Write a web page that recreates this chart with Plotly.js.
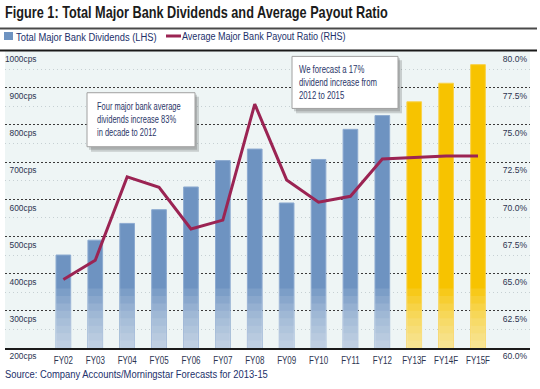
<!DOCTYPE html>
<html>
<head>
<meta charset="utf-8">
<script src="https://cdn.plot.ly/plotly-3.0.1.min.js"></script>
<style>
html,body{margin:0;padding:0;background:#fff;}
#chart{width:540px;height:389px;}
</style>
</head>
<body>
<div id="chart"></div>
<script>
// ---- data ----
const categories = ["FY02","FY03","FY04","FY05","FY06","FY07","FY08","FY09","FY10","FY11","FY12","FY13F","FY14F","FY15F"];
const dividends = [450, 490, 535, 572, 633, 704, 735, 590, 707, 788, 825, 862, 912, 962];
const payoutRatio = [64.6, 65.9, 71.5, 70.8, 68.0, 68.6, 76.4, 71.3, 69.8, 70.2, 72.7, 72.8, 72.9, 72.9];
const isForecast = [false,false,false,false,false,false,false,false,false,false,false,true,true,true];
const barName = "Total Major Bank Dividends (LHS)";
const lineName = "Average Major Bank Payout Ratio (RHS)";
const titleText = "Figure 1: Total Major Bank Dividends and Average Payout Ratio";
const sourceText = "Source: Company Accounts/Morningstar Forecasts for 2013-15";
const note1 = "Four major bank average<br>dividends increase 83%<br>in decade to 2012";
const note2 = "We forecast a 17%<br>dividend increase from<br>2012 to 2015";

// ---- styling ----
const FONT = '"Liberation Sans", Arial, sans-serif';
const BLUE = '#6e93c1', YELLOW = '#f7c300', LINE = '#9b2453', TXT = '#2c3450', NAVY = '#22306a';
const BLUE_EDGE = '#8caad0', YELLOW_EDGE = '#f9d24a';
const W = 540, H = 389, L = 5, R = 530, T = 45, B = 348;
const px = x => (x - L) / (R - L);
const py = y => (B - y) / (B - T);

const traces = [];
traces.push({
  type: 'bar', x: categories, y: dividends, name: barName,
  marker: {color: isForecast.map(f => f ? YELLOW : BLUE), line: {width: 1, color: isForecast.map(f => f ? YELLOW_EDGE : BLUE_EDGE)}},
  width: 0.46, hoverinfo: 'skip'
});
// soft fade toward the bottom of each bar (style overlay)
const base = 200;
for (let k = 1; k <= 8; k++) {
  traces.push({
    type: 'bar', x: categories, y: categories.map(() => 20 * k), base: base,
    marker: {color: 'rgba(255,255,255,0.1)', line: {width: 0}},
    width: 0.46, showlegend: false, hoverinfo: 'skip'
  });
}
traces.push({
  type: 'scatter', mode: 'lines', x: categories, y: payoutRatio, yaxis: 'y2', name: lineName,
  line: {color: LINE, width: 3}, hoverinfo: 'skip'
});

const n = categories.length;
const layout = {
  width: W, height: H,
  margin: {l: L, r: W - R, t: T, b: H - B, pad: 0},
  paper_bgcolor: '#ffffff', plot_bgcolor: '#eef5f5',
  barmode: 'overlay',
  font: {family: FONT, color: TXT, size: 10},
  title: {text: '<b>' + titleText + '</b>', xref: 'container', yref: 'container', x: 0.009, xanchor: 'left', y: 1 - 12.5 / H, yanchor: 'middle',
          font: {family: FONT, size: 16.5, color: '#1b1b1b'}},
  showlegend: true,
  legend: {orientation: 'h', xref: 'container', yref: 'container', x: 0, xanchor: 'left', y: 1 - 36 / H, yanchor: 'middle',
           font: {family: FONT, size: 11.5, color: NAVY}, itemwidth: 30, bgcolor: 'rgba(0,0,0,0)', borderwidth: 0, traceorder: 'normal'},
  xaxis: {type: 'category', range: [-1.83, n - 1 + 1.63], showgrid: false, zeroline: false, tickangle: 0, automargin: false,
          showline: true, linecolor: '#1a1a1a', linewidth: 2, ticks: '', tickfont: {size: 10, color: TXT}, ticklabelstandoff: 2, fixedrange: true},
  yaxis: {range: [200, 1000], dtick: 100, ticksuffix: 'cps', showgrid: true, gridcolor: '#3a3a3a', griddash: '2px,2px', gridwidth: 1,
          minor: {dtick: 50, showgrid: true, gridcolor: '#c6d0d3', griddash: '1px,3px', gridwidth: 1},
          zeroline: false, showline: false, ticks: '', ticklabelposition: 'inside', ticklabelshift: 8, ticklabelstandoff: 3, automargin: false,
          ticklabeloverflow: 'allow', tickfont: {size: 9.5, color: TXT}, fixedrange: true},
  yaxis2: {overlaying: 'y', side: 'right', range: [60, 80], dtick: 2.5, tickformat: '.1f', ticksuffix: '%', showgrid: false, zeroline: false,
           showline: false, ticks: '', ticklabelposition: 'inside', ticklabelshift: 8, ticklabelstandoff: 3, automargin: false,
           ticklabeloverflow: 'allow', tickfont: {size: 9.5, color: TXT}, fixedrange: true},
  shapes: [
    {type: 'line', xref: 'paper', yref: 'paper', x0: px(0), x1: px(537), y0: py(22.5), y1: py(22.5), line: {color: '#4a4a4a', width: 2}},
    {type: 'line', xref: 'paper', yref: 'paper', x0: px(0), x1: px(537), y0: py(45), y1: py(45), line: {color: '#1a1a1a', width: 2}},
    {type: 'rect', xref: 'paper', yref: 'paper', x0: px(91), x1: px(199), y0: py(92), y1: py(148), fillcolor: 'rgba(70,70,70,0.22)', line: {width: 0}, layer: 'above'},
    {type: 'rect', xref: 'paper', yref: 'paper', x0: px(89), x1: px(197), y0: py(90), y1: py(146), fillcolor: 'rgba(70,70,70,0.22)', line: {width: 0}, layer: 'above'},
    {type: 'rect', xref: 'paper', yref: 'paper', x0: px(87), x1: px(195), y0: py(88), y1: py(143), fillcolor: '#ffffff', line: {color: '#a0a0a0', width: 1}, layer: 'above'},
    {type: 'rect', xref: 'paper', yref: 'paper', x0: px(296), x1: px(402), y0: py(55), y1: py(109), fillcolor: 'rgba(70,70,70,0.22)', line: {width: 0}, layer: 'above'},
    {type: 'rect', xref: 'paper', yref: 'paper', x0: px(294), x1: px(400), y0: py(53), y1: py(107), fillcolor: 'rgba(70,70,70,0.22)', line: {width: 0}, layer: 'above'},
    {type: 'rect', xref: 'paper', yref: 'paper', x0: px(292), x1: px(398), y0: py(51), y1: py(104), fillcolor: '#ffffff', line: {color: '#a0a0a0', width: 1}, layer: 'above'}
  ],
  annotations: [
    {text: note1, xref: 'paper', yref: 'paper', x: px(97), xanchor: 'left', y: py(115.5), yanchor: 'middle', showarrow: false, align: 'left',
     font: {family: FONT, size: 10, color: '#2a3568'}},
    {text: note2, xref: 'paper', yref: 'paper', x: px(299), xanchor: 'left', y: py(77.5), yanchor: 'middle', showarrow: false, align: 'left',
     font: {family: FONT, size: 10, color: '#2a3568'}},
    {text: sourceText, xref: 'paper', yref: 'paper', x: px(5), xanchor: 'left', y: py(374), yanchor: 'middle', showarrow: false,
     font: {family: FONT, size: 11.5, color: NAVY}}
  ]
};

// --- condensed-type emulation: squeeze text horizontally after rendering (idempotent) ---
const state = new WeakMap();
function reset(el) {
  const cur = el.getAttribute('transform') || '';
  const st = state.get(el);
  const orig = (st && st.set === cur) ? st.orig : cur;
  if (orig) el.setAttribute('transform', orig); else el.removeAttribute('transform');
  return orig;
}
function remember(el, orig) { state.set(el, {orig: orig, set: el.getAttribute('transform') || ''}); }
function squeeze(el, s, mode) {
  const bb = el.getBBox();
  const p = mode === 'start' ? bb.x : (mode === 'end' ? bb.x + bb.width : bb.x + bb.width / 2);
  const t = el.getAttribute('transform') || '';
  el.setAttribute('transform', t + ' translate(' + p + ',0) scale(' + s + ',1) translate(' + (-p) + ',0)');
}
function fitWidth(el, w, mode) {
  const bb = el.getBBox();
  if (bb.width > 0) squeeze(el, w / bb.width, mode);
}
function shiftTo(el, left, right) {
  const r = el.getBoundingClientRect();
  const dx = (left != null) ? left - r.left : right - r.right;
  const t = el.getAttribute('transform') || '';
  el.setAttribute('transform', 'translate(' + dx + ',0) ' + t);
}
function treat(el, fn) { const o = reset(el); fn(el); remember(el, o); }

function post(gd) {
  const q = s => Array.from(gd.querySelectorAll(s));
  q('text.gtitle').forEach(el => treat(el, e => { fitWidth(e, 383, 'start'); shiftTo(e, 5, null); }));
  q('g.legend g.traces').forEach(g => {
    const txt = g.querySelector('text.legendtext');
    if (!txt) return;
    const isBar = txt.textContent === barName;
    treat(txt, e => { fitWidth(e, isBar ? 141 : 164, 'start'); shiftTo(e, isBar ? 16 : 182, null); });
    const bar = g.querySelector('g.legendpoints path');
    if (isBar && bar) { bar.setAttribute('d', 'M4.5,4H-4.5V-4H4.5Z'); bar.style.strokeWidth = '0px'; treat(bar, e => shiftTo(e, 4, null)); }
    const ln = g.querySelector('g.legendlines path');
    if (!isBar && ln) { ln.setAttribute('d', 'M0,0h15'); treat(ln, e => shiftTo(e, 166, null)); }
  });
  const ann = q('text.annotation-text');
  if (ann[0]) treat(ann[0], e => { fitWidth(e, 84, 'start'); shiftTo(e, 97, null); });
  if (ann[1]) treat(ann[1], e => { fitWidth(e, 78, 'start'); shiftTo(e, 299, null); });
  if (ann[2]) treat(ann[2], e => { fitWidth(e, 263, 'start'); shiftTo(e, 5, null); });
  q('g.xtick text').forEach(el => treat(el, e => squeeze(e, 0.8, 'middle')));
  q('g.ytick text').forEach(el => treat(el, e => { squeeze(e, 0.88, 'end'); shiftTo(e, null, 37); }));
  q('g.y2tick text').forEach(el => treat(el, e => { squeeze(e, 0.9, 'end'); shiftTo(e, null, 527); }));
}

Plotly.newPlot('chart', traces, layout, {staticPlot: true, displayModeBar: false}).then(gd => {
  const run = () => { try { post(gd); } catch (err) { console.error(err); } };
  run();
  gd.on('plotly_afterplot', run);
  [50, 200, 500, 1000, 2000].forEach(t => setTimeout(run, t));
});
</script>
</body>
</html>
